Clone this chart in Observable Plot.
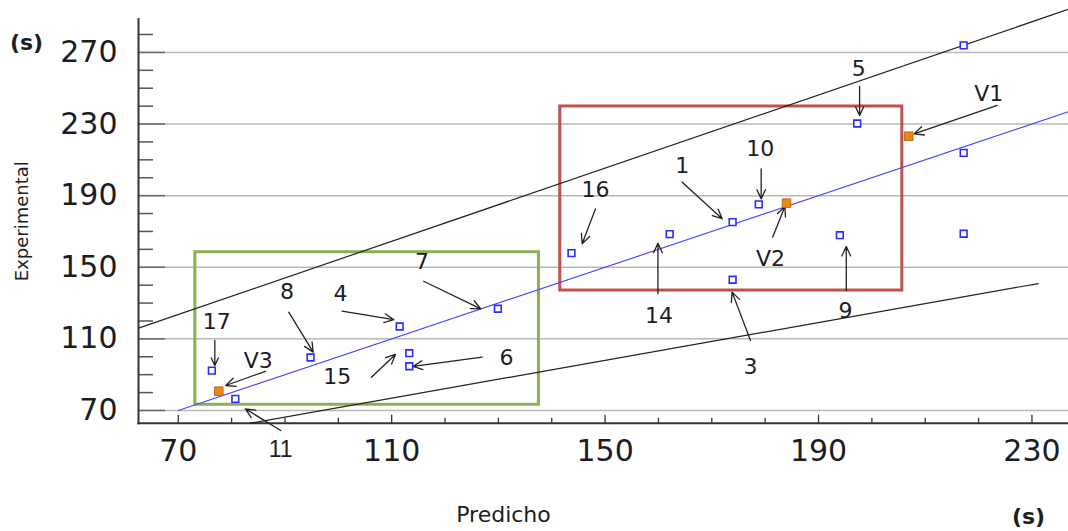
<!DOCTYPE html>
<html><head><meta charset="utf-8">
<script src="https://cdn.jsdelivr.net/npm/d3@7"></script>
<script src="https://cdn.jsdelivr.net/npm/@observablehq/plot@0.6"></script>
<style>body{margin:0;background:#fff}</style>
</head><body><div id="chart"></div>
<script>
// Experimental runs (blue squares)
const runPredicho     = [76.3, 80.7, 94.8, 111.5, 113.3, 113.3, 129.9, 143.7, 162.1, 173.9, 173.9, 178.8, 194.0, 197.25, 217.2, 217.2, 217.2];
const runExperimental = [92.3, 76.5, 99.6, 116.9, 102.0, 94.7, 126.8, 157.9, 168.5, 175.2, 143.0, 185.1, 167.9, 230.3, 273.9, 213.9, 168.7];
// Validation runs (orange squares)
const valPredicho     = [206.9, 184.0, 77.6];
const valExperimental = [223.2, 185.8, 80.8];
// Reference lines
const idealX = [70, 236.85],   idealY = [70, 236.85];
const upperX = [62.55, 236.85], upperY = [116.0, 294.1];
const lowerX = [83.5, 231.2],  lowerY = [62.9, 140.9];
// Highlight boxes
const greenBox = {x1: 73.2, x2: 137.6, y1: 73.2, y2: 158.4};
const redBox   = {x1: 141.6, x2: 205.7, y1: 137.0, y2: 239.8};
// Annotations: label, label position, arrow start, arrow end
const annLabel = ["17", "8", "4", "7", "V3", "15", "6", "16", "1", "10", "V2", "14", "9", "3", "5", "V1"];
const annX     = [77.2, 90.4, 100.4, 115.7, 85.0, 99.8, 131.5, 148.2, 164.45, 179.1, 181.0, 160.1, 195.05, 177.25, 197.55, 221.9];
const annY     = [119.7, 136.1, 135.2, 152.8, 97.9, 88.6, 99.4, 192.9, 206.8, 216.2, 154.7, 123.05, 125.8, 94.2, 260.8, 246.9];
const arrX1    = [76.85, 90.7, 100.7, 116.0, 86.35, 106.2, 126.96, 148.2, 164.45, 179.25, 181.4, 159.9, 195.2, 177.25, 197.7, 223.5];
const arrY1    = [109.1, 124.9, 125.5, 142.2, 91.9, 88.6, 99.8, 182.6, 197.5, 205.0, 166.8, 135.2, 137.0, 109.1, 250.95, 240.35];
const arrX2    = [76.85, 95.3, 110.4, 126.7, 78.9, 110.7, 114.0, 145.7, 171.95, 179.25, 183.7, 159.9, 195.2, 173.8, 197.7, 207.9];
const arrY2    = [95.1, 102.6, 120.7, 126.8, 83.96, 101.3, 94.6, 163.1, 177.1, 188.2, 183.9, 163.4, 161.6, 136.1, 234.8, 224.5];
// Small label "11"
const smallLabel = ["11"], smallX = [89.2], smallY = [48.0];
const smallArrX1 = [89.2], smallArrY1 = [58.8], smallArrX2 = [82.6], smallArrY2 = [70.9];
// Ticks
const yMajor = [70, 110, 150, 190, 230, 270];
const yMinor = d3.range(80, 290, 10).filter(v => !yMajor.includes(v));
const xMajor = [70, 110, 150, 190, 230];
const xMinor = d3.range(80, 231, 10).filter(v => !xMajor.includes(v));

const runs = runPredicho.map((x, i) => ({x, y: runExperimental[i]}));
const vals = valPredicho.map((x, i) => ({x, y: valExperimental[i]}));
const anns = annLabel.map((t, i) => ({t, x: annX[i], y: annY[i], x1: arrX1[i], y1: arrY1[i], x2: arrX2[i], y2: arrY2[i]}));
const small = smallLabel.map((t, i) => ({t, x: smallX[i], y: smallY[i], x1: smallArrX1[i], y1: smallArrY1[i], x2: smallArrX2[i], y2: smallArrY2[i]}));

const W = 1068, H = 531, mL = 138, mR = 0, mT = 18.6, mB = 108.3;
const fw = W - mL - mR, fh = H - mT - mB;
const ink = "#1c1c24";

const chart = Plot.plot({
  width: W, height: H,
  marginLeft: mL, marginRight: mR, marginTop: mT, marginBottom: mB,
  x: {domain: [62.55, 236.85], axis: null},
  y: {domain: [62.9, 288.6], axis: null},
  style: {fontFamily: "DejaVu Sans", background: "#fff"},
  marks: [
    Plot.ruleY(yMajor, {stroke: "#b8b8b8", strokeWidth: 1.5}),
    Plot.ruleY(yMinor, {stroke: "#555", strokeWidth: 1.5, insetRight: fw - 15}),
    Plot.ruleY(yMajor, {stroke: "#666", strokeWidth: 1.5, insetRight: fw - 27}),
    Plot.ruleX(xMinor, {stroke: "#333", strokeWidth: 1.3, insetTop: fh - 5}),
    Plot.ruleX(xMajor, {stroke: "#333", strokeWidth: 1.3, insetTop: fh - 8}),
    Plot.frame({anchor: "left", stroke: "#333", strokeWidth: 2}),
    Plot.frame({anchor: "bottom", stroke: "#333", strokeWidth: 2}),
    Plot.rect([greenBox], {x1: "x1", x2: "x2", y1: "y1", y2: "y2", fill: "none", stroke: "#8cb050", strokeWidth: 3}),
    Plot.rect([redBox], {x1: "x1", x2: "x2", y1: "y1", y2: "y2", fill: "none", stroke: "#c0504d", strokeWidth: 3}),
    Plot.line(idealX.map((x, i) => ({x, y: idealY[i]})), {x: "x", y: "y", stroke: "#4a4aff", strokeWidth: 1.2}),
    Plot.line(upperX.map((x, i) => ({x, y: upperY[i]})), {x: "x", y: "y", stroke: "#222", strokeWidth: 1.2}),
    Plot.line(lowerX.map((x, i) => ({x, y: lowerY[i]})), {x: "x", y: "y", stroke: "#222", strokeWidth: 1.2}),
    Plot.arrow(anns, {x1: "x1", y1: "y1", x2: "x2", y2: "y2", stroke: "#222", strokeWidth: 1.3, headLength: 12, headAngle: 50}),
    Plot.arrow(small, {x1: "x1", y1: "y1", x2: "x2", y2: "y2", stroke: "#222", strokeWidth: 1.3, headLength: 12, headAngle: 50}),
    Plot.dot(runs, {x: "x", y: "y", symbol: "square", r: 3.8, fill: "#fff", stroke: "#2b2bff", strokeWidth: 1.6}),
    Plot.dot(vals, {x: "x", y: "y", symbol: "square", r: 4.8, fill: "#e8891c", stroke: "#c06a10", strokeWidth: 1}),
    Plot.text(anns, {x: "x", y: "y", text: "t", fontSize: 22, fill: ink}),
    Plot.text(small, {x: "x", y: "y", text: "t", fontSize: 23, fill: ink, fontFamily: "Liberation Sans Narrow, Liberation Sans, sans-serif"}),
    Plot.text(yMajor, {y: d => d, text: d => String(d), frameAnchor: "left", textAnchor: "end", lineAnchor: "middle", dx: -21, fontSize: 30, fill: ink}),
    Plot.text(xMajor, {x: d => d, text: d => String(d), frameAnchor: "bottom", textAnchor: "middle", lineAnchor: "middle", dy: 28.3, fontSize: 30, fill: ink}),
    Plot.text(["(s)"], {frameAnchor: "top-left", textAnchor: "middle", lineAnchor: "middle", dx: -112, dy: 23.4, fontSize: 22, fontWeight: "bold", fill: ink}),
    Plot.text(["(s)"], {frameAnchor: "bottom-right", textAnchor: "middle", lineAnchor: "middle", dx: -40, dy: 94, fontSize: 22, fontWeight: "bold", fill: ink}),
    Plot.text(["Experimental"], {frameAnchor: "left", textAnchor: "middle", lineAnchor: "middle", dx: -116, rotate: -90, fontSize: 18, fill: ink}),
    Plot.text(["Predicho"], {frameAnchor: "bottom", textAnchor: "middle", lineAnchor: "middle", dx: -100, dy: 92, fontSize: 22, fill: ink})
  ]
});
document.getElementById("chart").appendChild(chart);
</script></body></html>
